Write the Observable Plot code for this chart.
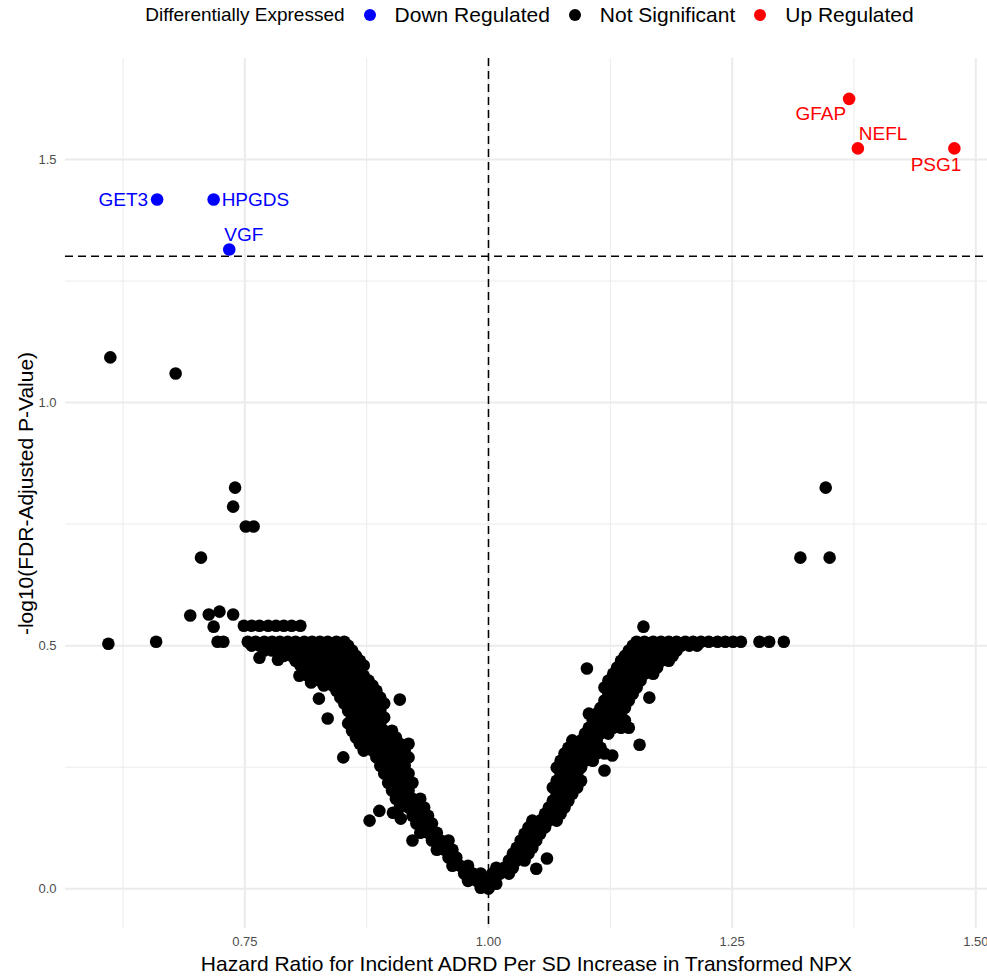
<!DOCTYPE html>
<html><head><meta charset="utf-8">
<script src="https://cdn.jsdelivr.net/npm/d3@7"></script>
<script src="https://cdn.jsdelivr.net/npm/@observablehq/plot@0.6"></script>
<style>
body{margin:0;background:#fff;font-family:"Liberation Sans",Arial,sans-serif;}
#legend{height:30px;box-sizing:border-box;padding-left:72px;display:flex;align-items:center;justify-content:center;color:#000;white-space:nowrap;}
#legend .ttl{font-size:19px;margin-right:19px;}
#legend .dot{width:12px;height:12px;border-radius:50%;display:inline-block;margin-right:19px;flex:none;}
#legend .lab{font-size:21px;margin-right:19px;}
#legend .lab:last-child{margin-right:0;}
#chart svg{display:block;}
</style></head><body>
<div id="legend"></div>
<div id="chart"></div>
<script>
// ---- data ----
const legendTitle = "Differentially Expressed";
const groups = ["Down Regulated", "Not Significant", "Up Regulated"];
const groupColors = ["#0000ff", "#000000", "#ff0000"];

const downGenes = ["GET3", "HPGDS", "VGF"];
const downHR = [0.660, 0.718, 0.734];
const downLogP = [1.418, 1.418, 1.315];

const upGenes = ["GFAP", "NEFL", "PSG1"];
const upHR = [1.370, 1.379, 1.478];
const upLogP = [1.625, 1.523, 1.523];

// not significant proteins (HR < 1), by -log10(FDR) row: [y, [hazard ratios]]
const notSigLeftRows = [
  [0.000, [1.000]],
  [0.002, [1.000, 0.992]],
  [0.016, [0.996, 0.988, 0.979]],
  [0.031, [0.992, 0.984, 0.975]],
  [0.047, [0.979, 0.971, 0.963]],
  [0.064, [0.967, 0.959]],
  [0.080, [0.963, 0.955, 0.947]],
  [0.099, [0.959, 0.951, 0.942]],
  [0.115, [0.947, 0.938, 0.930]],
  [0.134, [0.942, 0.934, 0.926]],
  [0.150, [0.938, 0.930, 0.922]],
  [0.167, [0.934, 0.926, 0.918, 0.909]],
  [0.185, [0.930, 0.922, 0.914, 0.905]],
  [0.202, [0.918, 0.909, 0.901]],
  [0.218, [0.922, 0.914, 0.905, 0.897]],
  [0.237, [0.918, 0.909, 0.901, 0.893]],
  [0.253, [0.914, 0.905, 0.897, 0.889]],
  [0.270, [0.918, 0.909, 0.901, 0.893, 0.885]],
  [0.284, [0.914, 0.905, 0.897, 0.889, 0.881, 0.872]],
  [0.298, [0.918, 0.909, 0.901, 0.893, 0.885, 0.877, 0.868]],
  [0.311, [0.905, 0.897, 0.889, 0.881, 0.872, 0.864]],
  [0.325, [0.901, 0.893, 0.885, 0.877, 0.868, 0.860]],
  [0.340, [0.889, 0.881, 0.872, 0.864, 0.856]],
  [0.352, [0.893, 0.885, 0.877, 0.868, 0.860]],
  [0.366, [0.889, 0.881, 0.872, 0.864, 0.856]],
  [0.381, [0.893, 0.885, 0.877, 0.868, 0.860, 0.852]],
  [0.393, [0.889, 0.881, 0.872, 0.864, 0.856, 0.848]],
  [0.407, [0.885, 0.877, 0.868, 0.860, 0.852, 0.844]],
  [0.418, [0.881, 0.872, 0.864, 0.856, 0.848, 0.840, 0.831]],
  [0.428, [0.877, 0.868, 0.860, 0.852, 0.844, 0.835, 0.827]],
  [0.438, [0.872, 0.864, 0.856, 0.848, 0.840, 0.831, 0.823, 0.815]],
  [0.449, [0.868, 0.860, 0.852, 0.844, 0.835, 0.827, 0.819, 0.811]],
  [0.459, [0.872, 0.864, 0.856, 0.848, 0.840, 0.831, 0.823, 0.815, 0.807]],
  [0.469, [0.868, 0.860, 0.852, 0.844, 0.835, 0.827, 0.819, 0.811, 0.802]],
  [0.479, [0.864, 0.856, 0.848, 0.840, 0.831, 0.823, 0.815, 0.807, 0.798, 0.790]],
  [0.490, [0.860, 0.852, 0.844, 0.835, 0.827, 0.819, 0.811, 0.802, 0.794, 0.786, 0.778, 0.770]],
  [0.500, [0.856, 0.848, 0.840, 0.831, 0.823, 0.815, 0.807, 0.798, 0.790, 0.782, 0.774, 0.765, 0.757]],
  [0.508, [0.852, 0.844, 0.835, 0.827, 0.819, 0.811, 0.802, 0.794, 0.786, 0.778, 0.770, 0.761, 0.753]],
  [0.541, [0.807, 0.798, 0.790, 0.782, 0.774, 0.765, 0.757, 0.749]]
];
// not significant proteins (HR > 1)
const notSigRightRows = [
  [0.010, [1.000, 1.008]],
  [0.031, [1.004, 1.012, 1.021]],
  [0.043, [1.008, 1.016, 1.025]],
  [0.058, [1.021, 1.029, 1.037]],
  [0.072, [1.025, 1.033, 1.041]],
  [0.084, [1.029, 1.037, 1.045]],
  [0.099, [1.033, 1.041, 1.049]],
  [0.113, [1.037, 1.045, 1.053]],
  [0.126, [1.041, 1.049, 1.058]],
  [0.140, [1.045, 1.053, 1.062, 1.070]],
  [0.154, [1.058, 1.066, 1.074]],
  [0.167, [1.062, 1.070, 1.078]],
  [0.181, [1.066, 1.074, 1.082]],
  [0.195, [1.070, 1.078, 1.086]],
  [0.208, [1.066, 1.074, 1.082, 1.091]],
  [0.222, [1.070, 1.078, 1.086, 1.095]],
  [0.237, [1.074, 1.082, 1.091]],
  [0.249, [1.070, 1.078, 1.086, 1.095]],
  [0.263, [1.074, 1.082, 1.091, 1.099, 1.107]],
  [0.278, [1.078, 1.086, 1.095, 1.103, 1.111, 1.119]],
  [0.290, [1.082, 1.091, 1.099, 1.107, 1.115]],
  [0.305, [1.086, 1.095, 1.103, 1.111]],
  [0.319, [1.099, 1.107, 1.115, 1.123]],
  [0.331, [1.103, 1.111, 1.119, 1.128, 1.136, 1.144]],
  [0.346, [1.107, 1.115, 1.123, 1.132, 1.140]],
  [0.360, [1.103, 1.111, 1.119, 1.128, 1.136]],
  [0.372, [1.115, 1.123, 1.132, 1.140]],
  [0.387, [1.119, 1.128, 1.136, 1.144]],
  [0.401, [1.123, 1.132, 1.140, 1.148]],
  [0.414, [1.119, 1.128, 1.136, 1.144, 1.152]],
  [0.428, [1.123, 1.132, 1.140, 1.148, 1.156]],
  [0.442, [1.128, 1.136, 1.144, 1.152, 1.160, 1.169]],
  [0.455, [1.132, 1.140, 1.148, 1.156, 1.165, 1.173]],
  [0.469, [1.136, 1.144, 1.152, 1.160, 1.169, 1.177, 1.185]],
  [0.479, [1.140, 1.148, 1.156, 1.165, 1.173, 1.181, 1.189]],
  [0.490, [1.144, 1.152, 1.160, 1.169, 1.177, 1.185, 1.193]],
  [0.500, [1.148, 1.156, 1.165, 1.173, 1.181, 1.189, 1.198, 1.206, 1.214]],
  [0.508, [1.152, 1.160, 1.169, 1.177, 1.185, 1.193, 1.202, 1.210, 1.218, 1.226, 1.235, 1.243, 1.251, 1.259, 1.278, 1.288, 1.303]]
];
// scattered not significant proteins: [hazard ratio, -log10(FDR)]
const notSigScattered = [
  [0.612, 1.093], [0.679, 1.060], [0.740, 0.825], [0.738, 0.786], [0.751, 0.745], [0.759, 0.745],
  [0.705, 0.681], [0.610, 0.504], [0.659, 0.508], [0.694, 0.562], [0.713, 0.564], [0.724, 0.570],
  [0.738, 0.564], [0.718, 0.539], [0.722, 0.508], [0.728, 0.508], [0.765, 0.475], [0.784, 0.471],
  [0.806, 0.438], [0.818, 0.424], [0.826, 0.391], [0.835, 0.350], [0.851, 0.270], [0.909, 0.389],
  [0.878, 0.140], [0.888, 0.160], [0.902, 0.156], [0.910, 0.144], [0.922, 0.099],
  [1.346, 0.825], [1.320, 0.681], [1.350, 0.681], [1.159, 0.539], [1.101, 0.453], [1.165, 0.393],
  [1.155, 0.296], [1.119, 0.243], [1.127, 0.274], [1.049, 0.041], [1.060, 0.062]
];

const xMajor = [0.75, 1.00, 1.25, 1.50];
const xMinor = [0.625, 0.875, 1.125, 1.375];
const yMajor = [0.0, 0.5, 1.0, 1.5];
const yMinor = [0.25, 0.75, 1.25];
const hrThreshold = 1.0;
const fdrThreshold = 1.301; // -log10(0.05)
const xTitle = "Hazard Ratio for Incident ADRD Per SD Increase in Transformed NPX";
const yTitle = "-log10(FDR-Adjusted P-Value)";

// label placement (style only)
const labelPlacement = {
  GET3: {anchor: "end", dx: -9, dy: 0},
  HPGDS: {anchor: "start", dx: 8, dy: 0},
  VGF: {anchor: "start", dx: -5, dy: -15},
  GFAP: {anchor: "end", dx: -3, dy: 15},
  NEFL: {anchor: "start", dx: 1, dy: -15},
  PSG1: {anchor: "end", dx: 7, dy: 16}
};

// ---- build tables ----
const notSig = [
  ...notSigLeftRows.flatMap(([y, xs]) => xs.map(x => ({hr: x, lp: y}))),
  ...notSigRightRows.flatMap(([y, xs]) => xs.map(x => ({hr: x, lp: y}))),
  ...notSigScattered.map(([x, y]) => ({hr: x, lp: y}))
];
const down = downGenes.map((g, i) => ({gene: g, hr: downHR[i], lp: downLogP[i]}));
const up = upGenes.map((g, i) => ({gene: g, hr: upHR[i], lp: upLogP[i]}));

// ---- legend ----
const leg = document.getElementById("legend");
leg.innerHTML = `<span class="ttl">${legendTitle}</span>` +
  groups.map((g, i) => `<span class="dot" style="background:${groupColors[i]}"></span><span class="lab">${g}</span>`).join("");

function labelMarks(data, color) {
  return data.map(d => {
    const p = labelPlacement[d.gene];
    return Plot.text([d], {x: "hr", y: "lp", text: "gene", fill: color, fontSize: 19,
      textAnchor: p.anchor, dx: p.dx, dy: p.dy});
  });
}

const chart = Plot.plot({
  width: 987,
  height: 948,
  marginLeft: 65,
  marginRight: 0,
  marginTop: 28,
  marginBottom: 50,
  x: {domain: [0.566, 1.512]},
  y: {domain: [-0.082, 1.708]},
  style: {fontFamily: "'Liberation Sans', Arial, sans-serif", background: "#fff", overflow: "visible"},
  marks: [
    Plot.gridX(xMinor, {stroke: "#ebebeb", strokeOpacity: 1, strokeWidth: 1}),
    Plot.gridY(yMinor, {stroke: "#ebebeb", strokeOpacity: 1, strokeWidth: 1}),
    Plot.gridX(xMajor, {stroke: "#ebebeb", strokeOpacity: 1, strokeWidth: 2}),
    Plot.gridY(yMajor, {stroke: "#ebebeb", strokeOpacity: 1, strokeWidth: 2}),
    Plot.axisX(xMajor, {tickSize: 0, tickPadding: 8, fontSize: 13, color: "#4d4d4d", label: null, tickFormat: d => d.toFixed(2)}),
    Plot.axisY(yMajor, {tickSize: 0, tickPadding: 9, fontSize: 13, color: "#4d4d4d", label: null, tickFormat: d => d.toFixed(1)}),
    Plot.ruleX([hrThreshold], {stroke: "#000", strokeWidth: 1.5, strokeDasharray: "8,5"}),
    Plot.ruleY([fdrThreshold], {stroke: "#000", strokeWidth: 1.5, strokeDasharray: "8,5"}),
    Plot.dot(notSig, {x: "hr", y: "lp", r: 6.3, fill: groupColors[1], stroke: "none"}),
    Plot.dot(down, {x: "hr", y: "lp", r: 6.3, fill: groupColors[0], stroke: "none"}),
    Plot.dot(up, {x: "hr", y: "lp", r: 6.3, fill: groupColors[2], stroke: "none"}),
    ...labelMarks(down, groupColors[0]),
    ...labelMarks(up, groupColors[2]),
    Plot.text([xTitle], {frameAnchor: "bottom", lineAnchor: "middle", textAnchor: "middle", dy: 36, fontSize: 21, fill: "#000"}),
    Plot.text([yTitle], {frameAnchor: "left", textAnchor: "middle", lineAnchor: "middle", dx: -39, rotate: -90, fontSize: 21, fill: "#000"})
  ]
});
document.getElementById("chart").appendChild(chart);
</script>
</body></html>
